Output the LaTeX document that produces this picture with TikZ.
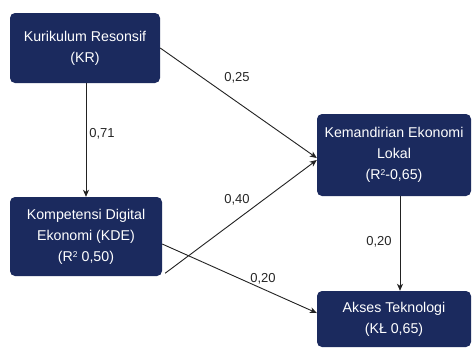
\documentclass[tikz,border=0pt]{standalone}
\usepackage{fontspec}
\setmainfont{Liberation Sans}
\usetikzlibrary{arrows.meta}
\definecolor{boxnavy}{RGB}{27,42,94}
\definecolor{linegray}{RGB}{34,34,34}
\newcommand{\sqr}{\raisebox{0.55ex}{\scalebox{0.6}{2}}}
\tikzset{
  varbox/.style={draw=none, fill=boxnavy, rounded corners=5pt, text=white,
    align=center, inner sep=0pt,
    font=\fontsize{14.2}{21}\selectfont},
  conn/.style={draw=linegray, line width=0.9pt,
    -{Stealth[length=7pt,width=6pt,inset=2pt]}},
  coef/.style={font=\fontsize{13}{14}\selectfont, text=black!85, inner sep=0pt}
}
\begin{document}
\begin{tikzpicture}[x=1pt,y=-1pt]
\useasboundingbox (0,0) rectangle (473,349);
\fill[white] (0,0) rectangle (473,349);

\node[varbox, minimum width=150pt, minimum height=70pt] (kr) at (85,48)
  {Kurikulum Resonsif\\(KR)};
\node[varbox, minimum width=152pt, minimum height=79pt] (kde) at (86,236.5)
  {Kompetensi Digital\\Ekonomi (KDE)\\(R\sqr\ 0,50)};
\node[varbox, minimum width=154pt, minimum height=82pt] (kel) at (394,155)
  {Kemandirian Ekonomi\\Lokal\\(R\sqr-0,65)};
\node[varbox, minimum width=154pt, minimum height=56pt] (at) at (394,319)
  {Akses Teknologi\\(KŁ 0,65)};

\draw[conn] (kr.south -| kde.north) -- (kde.north);
\draw[conn] (kr.east) -- ([yshift=-3pt]kel.west);
\draw[conn] ([shift={(3pt,3pt)}]kde.south east) -- ([yshift=-5pt]kel.west);
\draw[conn] ([yshift=-7.5pt]kde.east) -- ([yshift=6pt]at.west);
\draw[conn] ([xshift=6pt]kel.south) -- ([xshift=6pt]at.north);

\node[coef] (c1) at (102,134) {0,71};
\node[coef] (c2) at (237,78) {0,25};
\node[coef] (c3) at (237,200) {0,40};
\node[coef] (c4) at (263,279) {0,20};
\node[coef] (c5) at (379,242) {0,20};
\end{tikzpicture}
\end{document}
